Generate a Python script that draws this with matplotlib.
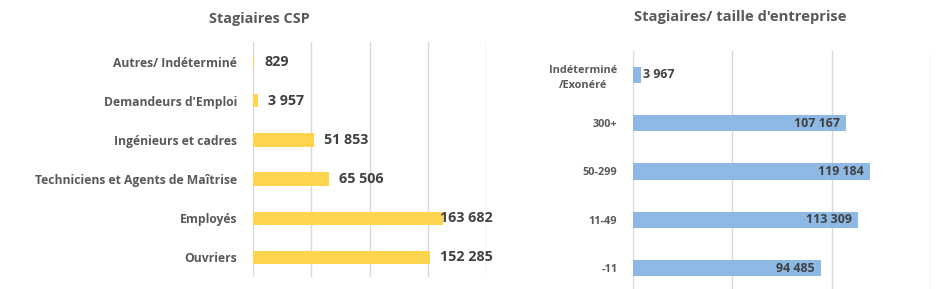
import matplotlib
matplotlib.use("Agg")
import matplotlib.pyplot as plt
from matplotlib.ticker import FixedLocator

plt.rcParams['font.family'] = ['Open Sans', 'DejaVu Sans']

# Left chart data
csp_categories = ["Autres/ Indéterminé", "Demandeurs d'Emploi", "Ingénieurs et cadres",
                  "Techniciens et Agents de Maîtrise", "Employés", "Ouvriers"]
csp_values = [829, 3957, 51853, 65506, 163682, 152285]
csp_labels = ["829", "3 957", "51 853", "65 506", "163 682", "152 285"]

# Right chart data
size_categories = ["Indéterminé\n/Exonéré", "300+", "50-299", "11-49", "-11"]
size_values = [3967, 107167, 119184, 113309, 94485]
size_labels = ["3 967", "107 167", "119 184", "113 309", "94 485"]

YELLOW = "#FFD54F"
BLUE = "#8DB9E4"
GRID = "#D9D9D9"
LABEL_C = "#595959"
VALUE_C = "#404040"

W, H = 950, 289
fig = plt.figure(figsize=(W / 100, H / 100), dpi=100)


def px_axes(x0, x1, ytop, ybot):
    return fig.add_axes([x0 / W, (H - ybot) / H, (x1 - x0) / W, (ybot - ytop) / H])


def style(ax, xmax, step):
    for s in ax.spines.values():
        s.set_visible(False)
    ax.set_xlim(0, xmax)
    ax.xaxis.set_major_locator(FixedLocator(list(range(0, xmax + 1, step))))
    ax.grid(axis='x', color=GRID, linewidth=1)
    ax.set_axisbelow(True)
    ax.tick_params(axis='x', length=0, labelbottom=False)
    ax.tick_params(axis='y', length=0, colors=LABEL_C)


# Left chart
ax1 = px_axes(253.3, 485.7, 42, 277)
y1 = list(range(len(csp_categories)))
ax1.barh(y1, csp_values, height=0.34, color=YELLOW)
ax1.set_ylim(len(csp_categories) - 0.5, -0.5)
style(ax1, 200000, 50000)
ax1.set_yticks(y1)
ax1.set_yticklabels(csp_categories, fontsize=8.7, fontweight='bold', color=LABEL_C)
ax1.tick_params(axis='y', pad=11.5)
for yi, v, lab in zip(y1, csp_values, csp_labels):
    if v > 140000:
        ax1.annotate(lab, xy=(1.0, yi), xycoords=('axes fraction', 'data'),
                     xytext=(7, 0), textcoords='offset pixels',
                     ha='right', va='center', fontsize=10.3, fontweight='bold', color=VALUE_C)
    else:
        ax1.annotate(lab, xy=(v, yi), xytext=(10, 0), textcoords='offset pixels',
                     ha='left', va='center', fontsize=10.3, fontweight='bold', color=VALUE_C)

# Right chart
ax2 = px_axes(633.3, 930.7, 50.7, 292.2)
y2 = list(range(len(size_categories)))
ax2.barh(y2, size_values, height=0.34, color=BLUE)
ax2.set_ylim(len(size_categories) - 0.5, -0.5)
style(ax2, 150000, 50000)
ax2.set_yticks(y2)
ax2.set_yticklabels(size_categories, fontsize=7.8, fontweight='bold', color=LABEL_C,
                    multialignment='center', linespacing=1.5)
ax2.tick_params(axis='y', pad=11.5)
for yi, v, lab in zip(y2, size_values, size_labels):
    if v < 20000:
        ax2.annotate(lab, xy=(v, yi), xytext=(2, 0), textcoords='offset pixels',
                     ha='left', va='center', fontsize=8.9, fontweight='bold', color=VALUE_C)
    else:
        ax2.annotate(lab, xy=(v, yi), xytext=(-6, 0), textcoords='offset pixels',
                     ha='right', va='center', fontsize=8.9, fontweight='bold', color=VALUE_C)

fig.text(259 / W, 1 - 19 / H, "Stagiaires CSP", ha='center', va='center',
         fontsize=10.4, fontweight='bold', color=LABEL_C)
fig.text(740.5 / W, 1 - 17 / H, "Stagiaires/ taille d'entreprise", ha='center', va='center',
         fontsize=10.6, fontweight='bold', color=LABEL_C)

fig.savefig("out.png", dpi=100, facecolor='white')
